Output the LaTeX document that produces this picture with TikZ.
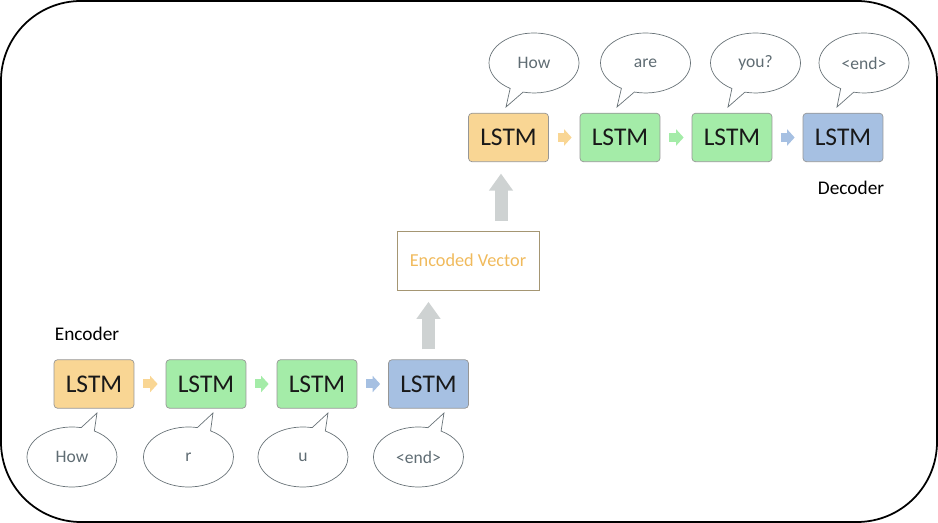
\documentclass[tikz,border=0pt]{standalone}
\usepackage{fontspec}
\setmainfont{Carlito}
\usetikzlibrary{shapes.callouts,arrows.meta}

\definecolor{lstmorange}{RGB}{249,214,148}
\definecolor{lstmgreen}{RGB}{164,236,168}
\definecolor{lstmblue}{RGB}{166,192,226}
\definecolor{boxedge}{RGB}{150,150,150}
\definecolor{wordgray}{RGB}{95,108,115}
\definecolor{bubbleedge}{RGB}{105,115,120}
\definecolor{vecorange}{RGB}{240,186,92}
\definecolor{vecedge}{RGB}{165,150,115}
\definecolor{upgray}{RGB}{206,210,210}

\tikzset{
  lstm/.style={draw=boxedge, rounded corners=2pt, minimum width=1.6cm, minimum height=0.97cm,
    inner sep=0pt, text=black!90, font=\fontsize{14.5}{16}\selectfont},
  word/.style={ellipse callout, draw=bubbleedge, minimum width=1.8cm, minimum height=1.2cm,
    text=wordgray, font=\fontsize{10}{12}\selectfont, callout pointer arc=18},
  link/.style={line width=0.18cm, -{Triangle[width=0.32cm,length=0.15cm]},
    shorten <=0.18cm, shorten >=0.16cm},
  lift/.style={upgray, line width=0.26cm, -{Triangle[width=0.46cm,length=0.34cm]},
    shorten <=0.2cm, shorten >=0.23cm},
}

\begin{document}
\begin{tikzpicture}[x=0.02cm,y=-0.02cm]
\useasboundingbox (0,0) rectangle (938,523);
\draw[line width=1pt, rounded corners=1.6cm] (1,1) rectangle (937,522);
% encoder
\node[lstm, fill=lstmorange] (enc1) at (94,384) {LSTM};
\node[lstm, fill=lstmgreen] (enc2) at (206,384) {LSTM};
\node[lstm, fill=lstmgreen] (enc3) at (317,384) {LSTM};
\node[lstm, fill=lstmblue] (enc4) at (428.5,384) {LSTM};
\node[font=\fontsize{11}{13}\selectfont] (enclabel) at (87,334) {Encoder};
\node[word, callout absolute pointer={(97,413)}] (in1) at (72,457) {How};
\node[word, callout absolute pointer={(213,413)}] (in2) at (188.5,457) {r};
\node[word, callout absolute pointer={(328,413)}] (in3) at (303,457) {u};
\node[word, callout absolute pointer={(444,413)}] (in4) at (418.5,457) {<end>};
\draw[link, lstmorange] (enc1) -- (enc2);
\draw[link, lstmgreen] (enc2) -- (enc3);
\draw[link, lstmblue] (enc3) -- (enc4);
%
\node[draw=vecedge, text=vecorange, minimum width=2.84cm, minimum height=1.18cm,
  font=\fontsize{10.4}{12}\selectfont] (vec) at (468,260.5) {Encoded Vector};
% decoder
\node[lstm, fill=lstmorange] (dec1) at (508.5,137.5) {LSTM};
\node[lstm, fill=lstmgreen] (dec2) at (620,137.5) {LSTM};
\node[lstm, fill=lstmgreen] (dec3) at (732,137.5) {LSTM};
\node[lstm, fill=lstmblue] (dec4) at (843,137.5) {LSTM};
\node[font=\fontsize{11}{13}\selectfont] (declabel) at (851,188) {Decoder};
\node[word, callout absolute pointer={(506,107)}] (out1) at (534,63) {How};
\node[word, callout absolute pointer={(617,107)}] (out2) at (645.5,63) {are};
\node[word, callout absolute pointer={(728,107)}] (out3) at (755.5,63) {you?};
\node[word, callout absolute pointer={(837,107)}] (out4) at (864,63) {<end>};
\draw[link, lstmorange] (dec1) -- (dec2);
\draw[link, lstmgreen] (dec2) -- (dec3);
\draw[link, lstmblue] (dec3) -- (dec4);
%
\draw[lift] (enc4.north) -- (enc4.north |- vec.south);
\draw[lift] ([xshift=-0.15cm]dec1.south |- vec.north) -- ([xshift=-0.15cm]dec1.south);
\end{tikzpicture}
\end{document}
